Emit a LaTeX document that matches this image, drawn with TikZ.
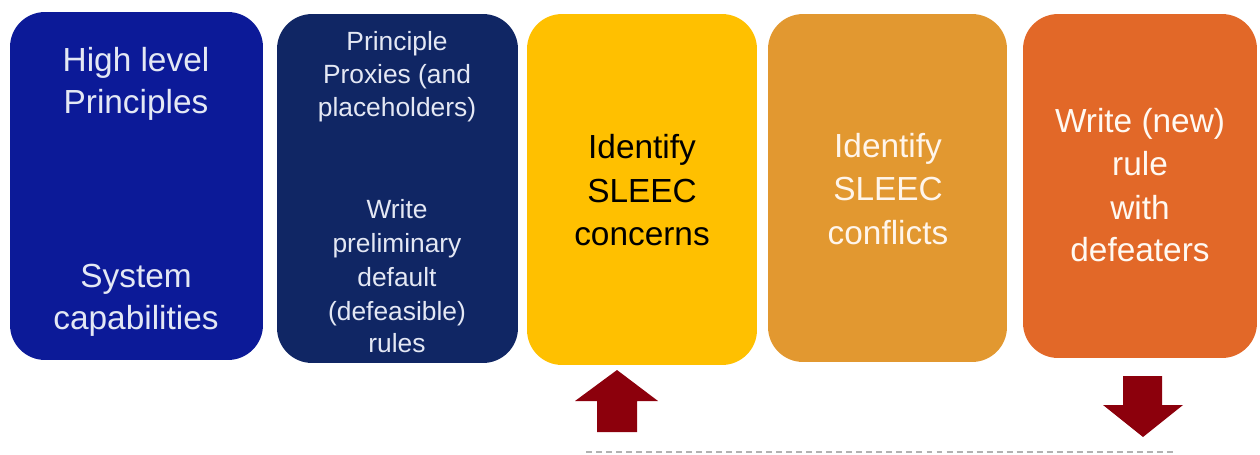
\documentclass[tikz,border=0pt]{standalone}
\usepackage{fontspec}
\setmainfont{Liberation Sans}
\definecolor{cblue}{RGB}{12,26,152}
\definecolor{cnavy}{RGB}{16,38,100}
\definecolor{cyellow}{RGB}{255,192,0}
\definecolor{camber}{RGB}{226,152,48}
\definecolor{corange}{RGB}{226,104,40}
\definecolor{cred}{RGB}{140,0,12}
\definecolor{ctxt}{RGB}{228,232,244}
\begin{document}
\begin{tikzpicture}[x=0.02cm,y=-0.02cm,
  card/.style={rounded corners=0.7cm, inner sep=0pt, draw=none},
  bigtxt/.style={anchor=base, inner sep=0pt, font=\fontsize{19}{24}\selectfont},
  smalltxt/.style={anchor=base, inner sep=0pt, font=\fontsize{15}{18.5}\selectfont},
  blockarrow/.style={fill=cred, draw=none},
  dashline/.style={draw=black!30, line width=1.5pt, dash pattern=on 3.4pt off 2.3pt}]
\useasboundingbox (0,0) rectangle (1260,454);
% boxes
\node[card, fill=cblue, minimum width=5.06cm, minimum height=6.96cm] (b1) at (136.5,186) {};
\node[card, fill=cnavy, minimum width=4.82cm, minimum height=6.98cm] (b2) at (397.5,188.5) {};
\node[card, fill=cyellow, minimum width=4.6cm, minimum height=7.02cm] (b3) at (642,189.5) {};
\node[card, fill=camber, minimum width=4.78cm, minimum height=6.96cm] (b4) at (887.5,188) {};
\node[card, fill=corange, minimum width=4.68cm, minimum height=6.88cm] (b5) at (1140,186) {};
% box 1 text
\node[bigtxt, text=ctxt] (t1a) at (136,71) {High level};
\node[bigtxt, text=ctxt] (t1b) at (136,113) {Principles};
\node[bigtxt, text=ctxt] (t1c) at (136,287) {System};
\node[bigtxt, text=ctxt] (t1d) at (136,329) {capabilities};
% box 2 text
\node[smalltxt, text=ctxt] (t2a) at (397,50) {Principle};
\node[smalltxt, text=ctxt] (t2b) at (397,83) {Proxies (and};
\node[smalltxt, text=ctxt] (t2c) at (397,116) {placeholders)};
\node[smalltxt, text=ctxt] (t2d) at (397,218) {Write};
\node[smalltxt, text=ctxt] (t2e) at (397,252) {preliminary};
\node[smalltxt, text=ctxt] (t2f) at (397,286) {default};
\node[smalltxt, text=ctxt] (t2g) at (397,320) {(defeasible)};
\node[smalltxt, text=ctxt] (t2h) at (397,352) {rules};
% box 3 text
\node[bigtxt, text=black] (t3a) at (642,158) {Identify};
\node[bigtxt, text=black] (t3b) at (642,202) {SLEEC};
\node[bigtxt, text=black] (t3c) at (642,245) {concerns};
% box 4 text
\node[bigtxt, text=white!92!orange] (t4a) at (888,157) {Identify};
\node[bigtxt, text=white!92!orange] (t4b) at (888,200) {SLEEC};
\node[bigtxt, text=white!92!orange] (t4c) at (888,244) {conflicts};
% box 5 text
\node[bigtxt, text=white!95!orange] (t5a) at (1140,132) {Write (new)};
\node[bigtxt, text=white!95!orange] (t5b) at (1140,175) {rule};
\node[bigtxt, text=white!95!orange] (t5c) at (1140,219) {with};
\node[bigtxt, text=white!95!orange] (t5d) at (1140,261) {defeaters};
% block arrows
\fill[blockarrow] (597,432) -- (637,432) -- (637,401) -- (658,401) -- (617,370) -- (575,401) -- (597,401) -- cycle;
\fill[blockarrow] (1123,376) -- (1162,376) -- (1162,405) -- (1183,405) -- (1143,437) -- (1103,405) -- (1123,405) -- cycle;
% dashed line
\coordinate (dl) at (586,452);
\coordinate (dr) at (1175,452);
\draw[dashline] (dl) -- (dr);
\end{tikzpicture}
\end{document}
